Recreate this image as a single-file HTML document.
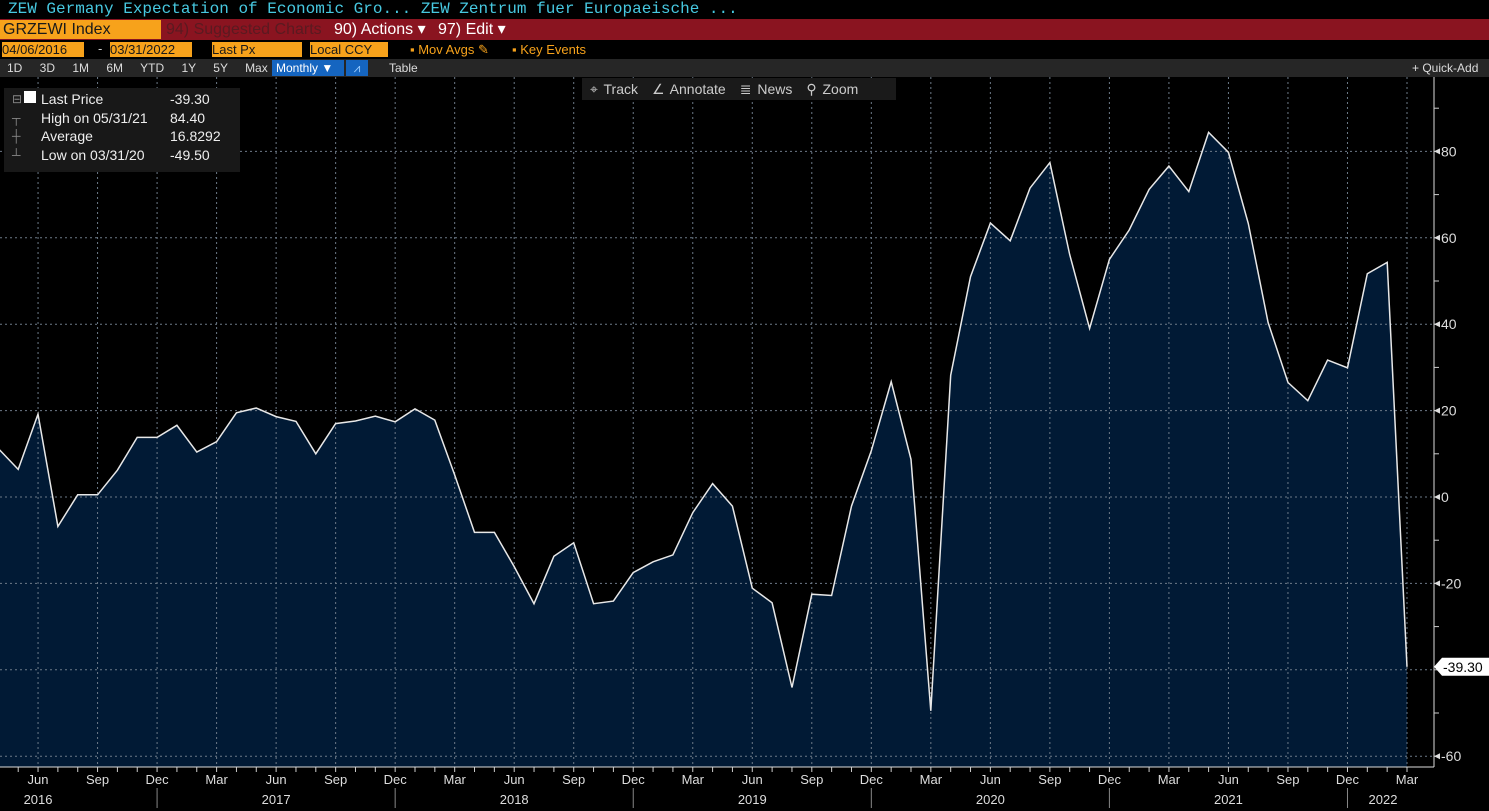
<!DOCTYPE html>
<html><head><meta charset="utf-8"><style>
body{margin:0;width:1489px;height:811px;background:#000;overflow:hidden;font-family:"Liberation Sans",sans-serif;position:relative}
.a{position:absolute;white-space:nowrap}
.org{background:#f7a21b;color:#1a1a1a}
</style></head><body>
<div class="a" style="left:0;top:0;width:1489px;height:19px;background:#000;color:#47c8e0;font-family:'Liberation Mono',monospace;font-size:16px;line-height:19px;padding-left:8px">ZEW Germany Expectation of Economic Gro...  ZEW Zentrum fuer Europaeische ...</div>
<div class="a" style="left:0;top:19px;width:1489px;height:21px;background:#8a1420"></div>
<div class="a org" style="left:0;top:20px;width:158px;height:19px;font-size:16px;line-height:19px;padding-left:3px">GRZEWI Index</div>
<div class="a" style="left:166px;top:20px;height:19px;font-size:16px;line-height:19px;color:#5a1a20">94) Suggested Charts</div>
<div class="a" style="left:334px;top:20px;height:19px;font-size:16px;line-height:19px;color:#fff">90) Actions ▾</div>
<div class="a" style="left:438px;top:20px;height:19px;font-size:16px;line-height:19px;color:#fff">97) Edit ▾</div>
<div class="a org" style="left:2px;top:42px;width:82px;height:15px;font-size:13px;line-height:15px">04/06/2016</div>
<div class="a org" style="left:110px;top:42px;width:82px;height:15px;font-size:13px;line-height:15px">03/31/2022</div>
<div class="a" style="left:98px;top:41px;color:#ccc;font-size:13px">-</div>
<div class="a org" style="left:212px;top:42px;width:90px;height:15px;font-size:13px;line-height:15px">Last Px</div>
<div class="a org" style="left:310px;top:42px;width:78px;height:15px;font-size:13px;line-height:15px">Local CCY</div>
<div class="a" style="left:410px;top:42px;font-size:13px;color:#f7a21b">▪ Mov Avgs ✎</div>
<div class="a" style="left:512px;top:42px;font-size:13px;color:#f7a21b">▪ Key Events</div>
<div class="a" style="left:0;top:59px;width:1489px;height:18px;background:#262626"></div>
<div class="a" style="left:7px;top:61px;font-size:12px;color:#ddd;word-spacing:14px">1D 3D 1M 6M YTD 1Y 5Y Max</div>
<div class="a" style="left:272px;top:60px;width:68px;height:16px;background:#1565c0;color:#fff;font-size:12px;line-height:16px;padding-left:4px">Monthly ▼</div>
<div class="a" style="left:346px;top:60px;width:22px;height:16px;background:#1565c0;color:#9cf;font-size:12px;line-height:16px;text-align:center">⩘</div>
<div class="a" style="left:389px;top:61px;font-size:12px;color:#ddd">Table</div>
<div class="a" style="left:1412px;top:61px;font-size:12px;color:#ddd">+ Quick-Add</div>
<svg class="a" style="left:0;top:0" width="1489" height="811" id="chart"></svg>
<div class="a" style="left:582px;top:78px;width:314px;height:22px;background:#1a1a1a;color:#ccc;font-size:14px;line-height:22px;word-spacing:2px">
<span style="margin-left:8px">⌖ Track</span><span style="margin-left:14px">∠ Annotate</span><span style="margin-left:14px">≣ News</span><span style="margin-left:14px">⚲ Zoom</span></div>
<div class="a" style="left:4px;top:88px;width:236px;height:84px;background:#181818;color:#eee;font-size:14px;line-height:18.5px">
<div style="position:absolute;left:20px;top:3px;width:12px;height:12px;background:#fff"></div>
<div style="position:absolute;left:37px;top:2px">Last Price<br>High on 05/31/21<br>Average<br>Low on 03/31/20</div>
<div style="position:absolute;left:166px;top:2px">-39.30<br>84.40<br>16.8292<br>-49.50</div>
<div style="position:absolute;left:8px;top:2px;color:#888;font-size:12px;line-height:18.5px">⊟<br>┬<br>┼<br>┴</div>
</div>
<script>
const months=['Apr','May','Jun','Jul','Aug','Sep','Oct','Nov','Dec','Jan','Feb','Mar'];
const startYear=2016;
const values=[11.2,6.4,19.2,-6.8,0.5,0.5,6.2,13.8,13.8,
16.6,10.4,12.8,19.5,20.6,18.6,17.5,10.0,17.0,17.6,18.7,17.4,
20.4,17.8,5.1,-8.2,-8.2,-16.1,-24.7,-13.7,-10.6,-24.7,-24.1,-17.5,
-15.0,-13.4,-3.6,3.1,-2.1,-21.1,-24.5,-44.1,-22.5,-22.8,-2.1,10.7,
26.7,8.7,-49.5,28.2,51.0,63.4,59.3,71.5,77.4,56.1,39.0,55.0,
61.8,71.2,76.6,70.7,84.4,79.8,63.3,40.4,26.5,22.3,31.7,29.9,
51.7,54.3,-39.3];
const yTicks=[-60,-40,-20,0,20,40,60,80];
const yTickLabels=['-60','','-20','0','20','40','60','80'];
const lastLabel='-39.30';
const svg=document.getElementById('chart');
const NS='http://www.w3.org/2000/svg';
const n=values.length;
const X=i=>1407-(n-1-i)*19.84;
const Y=v=>497-v*4.32;
const L=0,R=1434,T=77,B=767;
function mk(t,a){const e=document.createElementNS(NS,t);for(const k in a)e.setAttribute(k,a[k]);svg.appendChild(e);return e;}
let d='M'+X(0)+','+B;
values.forEach((v,i)=>d+=' L'+X(i).toFixed(1)+','+Y(v).toFixed(1));
d+=' L'+X(n-1)+','+B+' Z';
const area=mk('path',{d:d,fill:'#011a35'});


yTicks.forEach(v=>{const g=mk('line',{x1:L,x2:R,y1:Y(v),y2:Y(v),stroke:'#6d7a88','stroke-width':1,'stroke-dasharray':'2,3'});

});
values.forEach((v,i)=>{const m=months[i%12];
const x=X(i);
const yr=startYear+Math.floor((i+3)/12);
mk('line',{x1:x,x2:x,y1:B,y2:B+5,stroke:'#ccc'});
if(['Mar','Jun','Sep','Dec'].includes(m)){
const g=mk('line',{x1:x,x2:x,y1:T,y2:B,stroke:'#6d7a88','stroke-width':1,'stroke-dasharray':'2,3'});


const t=mk('text',{x:x,y:784,fill:'#ddd','font-size':13,'text-anchor':'middle'});t.textContent=m;

}
let yx=null;
if(m==='Jun') yx=x;
if(i===n-1 && m!=='Jun' && m!=='Jul' ) yx=x-24;
if(yx!==null){
const t=mk('text',{x:yx,y:804,fill:'#ddd','font-size':13,'text-anchor':'middle'});t.textContent=yr;

}
if(m==='Dec'){mk('line',{x1:x,x2:x,y1:788,y2:808,stroke:'#888'});}
});
let p='';values.forEach((v,i)=>p+=(i?' L':'M')+X(i).toFixed(1)+','+Y(v).toFixed(1));
const ln=mk('path',{d:p,fill:'none',stroke:'#e8e8e8','stroke-width':1.5});


mk('line',{x1:R,x2:R,y1:T,y2:B,stroke:'#ddd'});
mk('line',{x1:L,x2:R,y1:B,y2:B,stroke:'#ddd'});
yTicks.concat([-50,-30,-10,10,30,50,70,90]).forEach(v=>mk('line',{x1:R,x2:R+5,y1:Y(v),y2:Y(v),stroke:'#ccc'}));
yTicks.forEach((v,k)=>{if(!yTickLabels[k])return;
mk('path',{d:`M${R} ${Y(v)} l6 -3 v6 z`,fill:'#ddd'});
const t=mk('text',{x:R+7,y:Y(v)+5,fill:'#ddd','font-size':14});t.textContent=yTickLabels[k];

});
const ly=Y(values[n-1]);
mk('path',{d:`M${R} ${ly} l8 -9 h50 v18 h-50 z`,fill:'#fff'});
const lt=mk('text',{x:R+9,y:ly+5,fill:'#000','font-size':14});lt.textContent=lastLabel;


</script>
</body></html>
